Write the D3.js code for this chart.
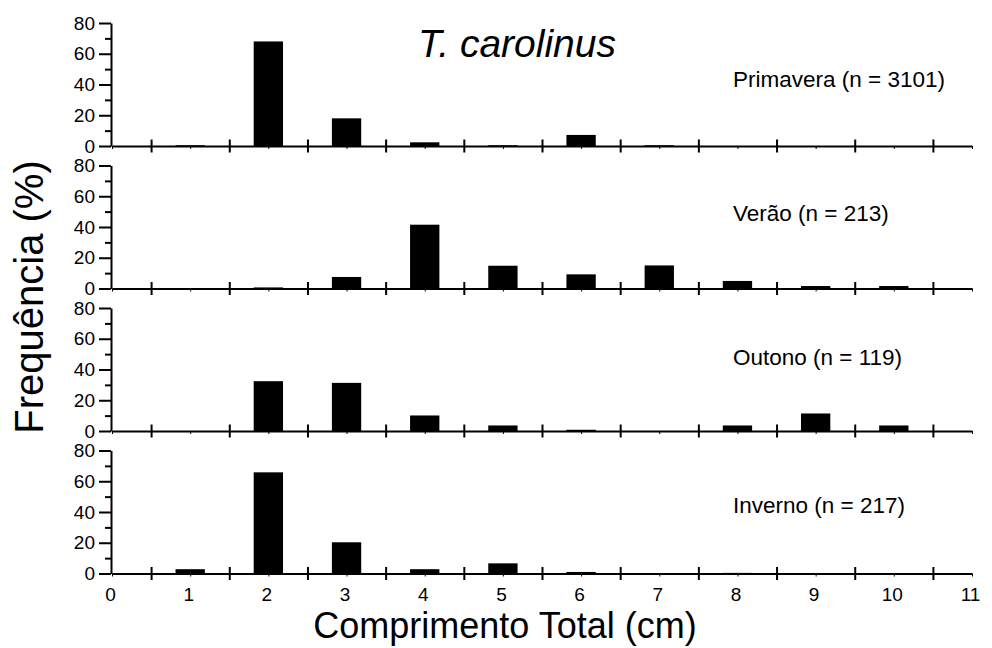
<!DOCTYPE html>
<html>
<head>
<meta charset="utf-8">
<script src="https://cdn.jsdelivr.net/npm/d3@7/dist/d3.min.js"></script>
<style>
  html, body { margin: 0; padding: 0; background: #fff; }
  svg { display: block; }
  text { font-family: "Liberation Sans", Arial, Helvetica, sans-serif; fill: #000; }
</style>
</head>
<body>
<svg id="chart" width="992" height="648"></svg>
<script>
// ---- data ----
const lengths = [1, 2, 3, 4, 5, 6, 7, 8, 9, 10];
const primavera = [0.5, 68, 18, 2.4, 0.5, 7.2, 0.5, 0, 0, 0];
const verao     = [0, 0.7, 7.5, 41.5, 14.8, 9.2, 15, 4.9, 1.6, 1.6];
const outono    = [0, 32.4, 31.3, 10.1, 3.6, 0.8, 0, 3.6, 11.4, 3.6];
const inverno   = [2.8, 65.8, 20.3, 2.8, 6.6, 1, 0, 0.4, 0, 0];
const seasonLabels = ["Primavera (n = 3101)", "Verão (n = 213)", "Outono (n = 119)", "Inverno (n = 217)"];
const yTicks = [0, 20, 40, 60, 80];
const yMinorTicks = [10, 30, 50, 70];
const xTickLabels = ["0","1","2","3","4","5","6","7","8","9","10","11"];
const xMajorTicks = [0.5,1.5,2.5,3.5,4.5,5.5,6.5,7.5,8.5,9.5,10.5];
const title = "T. carolinus";
const xTitle = "Comprimento Total (cm)";
const yTitle = "Frequência (%)";

// ---- layout ----
const series = [primavera, verao, outono, inverno];
const baselines = [146, 288.5, 431, 573.5];
const panelH = 123;
const labelBaselineOffsets = [59, 67.5, 66.5, 60.5];
const axisX = 111;

const svg = d3.select("#chart");
const x = d3.scaleLinear().domain([0, 11]).range([112, 972]);
const barW = 0.375 * (x(1) - x(0));

series.forEach((vals, i) => {
  const base = baselines[i];
  const y = d3.scaleLinear().domain([0, 80]).range([base, base - panelH]);
  const g = svg.append("g");

  // bars
  g.selectAll("rect").data(lengths.map((l, k) => ({l, v: vals[k]})).filter(d => d.v > 0))
    .enter().append("rect")
    .attr("x", d => x(d.l) - barW / 2)
    .attr("y", d => y(d.v))
    .attr("width", barW)
    .attr("height", d => Math.max(0.8, y(0) - y(d.v)))
    .attr("fill", "#000");

  // x axis: crossing ticks at half values
  const xb = g.append("g").attr("transform", `translate(0,${base})`)
    .call(d3.axisBottom(x).tickValues(xMajorTicks).tickSize(6.5).tickSizeOuter(0).tickFormat(""));
  const xt = g.append("g").attr("transform", `translate(0,${base})`)
    .call(d3.axisTop(x).tickValues(xMajorTicks).tickSize(6.5).tickSizeOuter(0).tickFormat(""));
  xt.select(".domain").remove();
  // minor ticks at integers (and labels in bottom panel)
  const xm = g.append("g").attr("transform", `translate(0,${base})`)
    .call(d3.axisBottom(x).tickValues(d3.range(0, 12)).tickSize(3).tickSizeOuter(0)
      .tickPadding(11)
      .tickFormat(i === 3 ? (d => xTickLabels[d]) : ""));
  xm.select(".domain").remove();
  xm.selectAll(".tick line").attr("stroke-width", 1);
  xm.selectAll(".tick text").attr("font-size", 19).attr("dx", -2)
    .attr("font-family", "'Liberation Sans', Arial, sans-serif");

  [xb, xt].forEach(a => {
    a.selectAll(".domain, .tick line").attr("stroke", "#000").attr("stroke-width", 2);
  });

  // y axis
  const ya = g.append("g").attr("transform", `translate(${axisX},0)`)
    .call(d3.axisLeft(y).tickValues(yTicks).tickSize(12).tickSizeOuter(0).tickPadding(4));
  ya.selectAll(".domain, .tick line").attr("stroke", "#000").attr("stroke-width", 2);
  ya.selectAll(".tick text").attr("font-size", 19)
    .attr("font-family", "'Liberation Sans', Arial, sans-serif");
  const ym = g.append("g").attr("transform", `translate(${axisX},0)`)
    .call(d3.axisLeft(y).tickValues(yMinorTicks).tickSize(6).tickSizeOuter(0).tickFormat(""));
  ym.select(".domain").remove();
  ym.selectAll(".tick line").attr("stroke", "#000").attr("stroke-width", 2);

  // season label
  g.append("text")
    .attr("x", 733)
    .attr("y", base - labelBaselineOffsets[i])
    .attr("font-size", 22.5)
    .text(seasonLabels[i]);
});

// titles
svg.append("text").attr("x", 418).attr("y", 57)
  .attr("font-size", 39).attr("font-style", "italic").text(title);
svg.append("text").attr("x", 505).attr("y", 638)
  .attr("text-anchor", "middle").attr("font-size", 36).text(xTitle);
svg.append("text")
  .attr("transform", "translate(43,297) rotate(-90)")
  .attr("text-anchor", "middle").attr("font-size", 40).text(yTitle);
</script>
</body>
</html>
